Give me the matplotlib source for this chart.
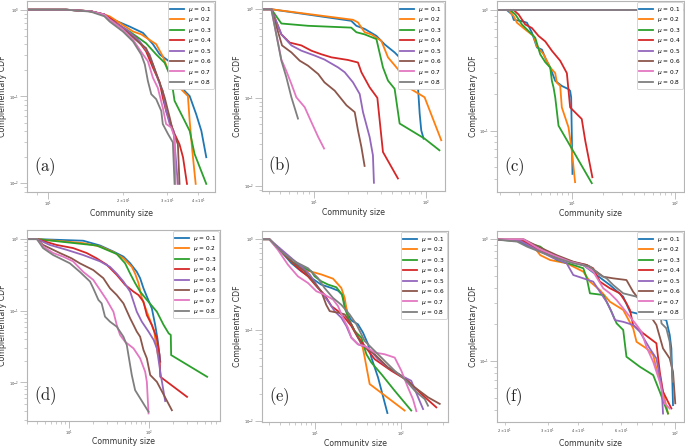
import matplotlib
matplotlib.use('Agg')
import matplotlib.pyplot as plt
from matplotlib.font_manager import FontProperties

plt.rcParams['font.family'] = ['DejaVu Sans']
plt.rcParams['mathtext.fontset'] = 'dejavusans'

MU = [0.1, 0.2, 0.3, 0.4, 0.5, 0.6, 0.7, 0.8]
COLORS = ['#1f77b4', '#ff7f0e', '#2ca02c', '#d62728',
          '#9467bd', '#8c564b', '#e377c2', '#7f7f7f']
PANEL_TAGS = ['a', 'b', 'c', 'd', 'e', 'f']
XLABEL = 'Community size'
YLABEL = 'Complementary CDF'

# ---------------- panel (a) ----------------
a_sizes = [
    [8, 11.8, 14.8, 16.8, 17.65, 21.2, 24.0, 26.3, 28.0, 31.1, 33.6, 35.2, 36.9, 39.2, 41.1, 43.0],
    [8, 11.8, 14.8, 16.8, 17.65, 21.9, 23.6, 27.1, 28.8, 31.1, 33.1, 36.3, 36.9, 37.8, 39.0],
    [8, 11.8, 14.8, 16.8, 17.65, 21.2, 24.7, 27.1, 29.3, 31.1, 32.1, 34.7, 36.9, 38.6, 43.0],
    [8, 11.8, 14.8, 16.8, 17.65, 19.95, 22.6, 24.7, 26.3, 28.0, 28.8, 29.7, 30.7, 32.1, 33.6, 34.7, 36.0],
    [8, 11.8, 14.8, 16.8, 17.65, 20.6, 23.3, 25.5, 28.0, 28.8, 29.7, 30.7, 31.8, 33.1],
    [8, 11.8, 14.8, 16.8, 17.65, 20.6, 23.3, 24.7, 26.3, 28.0, 29.3, 30.7, 31.6, 33.1, 33.6],
    [8, 11.8, 14.8, 16.8, 17.65, 19.95, 21.9, 24.0, 25.1, 26.3, 27.5, 28.8, 29.7, 31.1, 32.1, 32.4],
    [8, 11.8, 14.8, 16.8, 17.65, 19.95, 21.9, 23.6, 24.4, 25.1, 25.9, 27.1, 28.4, 28.8, 30.2, 31.6, 32.1],
]
a_ccdf = [
    [1, 1, 0.96, 0.88, 0.80, 0.64, 0.54, 0.40, 0.305, 0.244, 0.164, 0.116, 0.101, 0.062, 0.040, 0.0199],
    [1, 1, 0.96, 0.88, 0.838, 0.56, 0.52, 0.40, 0.29, 0.164, 0.132, 0.101, 0.052, 0.0237, 0.0098],
    [1, 1, 0.96, 0.88, 0.77, 0.56, 0.41, 0.305, 0.244, 0.164, 0.089, 0.057, 0.040, 0.0217, 0.0098],
    [1, 1, 0.96, 0.88, 0.80, 0.62, 0.47, 0.33, 0.214, 0.144, 0.097, 0.068, 0.052, 0.037, 0.028, 0.0199, 0.0098],
    [1, 1, 0.96, 0.88, 0.77, 0.59, 0.43, 0.305, 0.138, 0.116, 0.068, 0.048, 0.040, 0.0098],
    [1, 1, 0.96, 0.88, 0.77, 0.56, 0.41, 0.36, 0.234, 0.144, 0.097, 0.057, 0.040, 0.028, 0.0098],
    [1, 1, 0.96, 0.88, 0.77, 0.59, 0.45, 0.305, 0.255, 0.164, 0.126, 0.074, 0.048, 0.044, 0.034, 0.0098],
    [1, 1, 0.95, 0.84, 0.73, 0.56, 0.43, 0.305, 0.234, 0.151, 0.106, 0.093, 0.068, 0.048, 0.037, 0.0295, 0.0098],
]

# ---------------- panel (b) ----------------
b_sizes = [
    [3, 4.16, 21.5, 23.9, 28.3, 36.1, 42.8, 52.5, 64.5, 79.2, 84.9, 87.9, 90.8, 95.3],
    [3, 4.16, 22.3, 24.7, 28.3, 32.5, 39.9, 45.8, 56.2, 69.1, 97.3, 137],
    [3, 4.16, 5.11, 8.84, 21.5, 23.9, 28.3, 36.1, 41.3, 45.8, 52.5, 58.2, 97.3, 132],
    [3, 4.16, 5.11, 6.06, 7.71, 9.47, 11.6, 14.3, 20.1, 24.7, 26.5, 31.4, 36.8, 41.3, 56.2],
    [3, 4.16, 5.11, 6.28, 7.71, 10.1, 12.4, 16.4, 18.8, 22.3, 25.6, 27.4, 31.4, 33.6, 34.3],
    [3, 4.16, 5.18, 6.28, 7.45, 8.84, 10.9, 12.4, 15.3, 19.5, 23.1, 24.7, 26.5, 28.3],
    [3, 4.16, 5.11, 5.66, 6.28, 6.95, 8.26, 9.47, 10.9, 12.3],
    [3, 4.16, 5.11, 5.66, 6.28, 7.19],
]
b_ccdf = [
    [1, 1, 0.74, 0.65, 0.60, 0.50, 0.40, 0.325, 0.25, 0.194, 0.131, 0.066, 0.0427, 0.0344],
    [1, 1, 0.76, 0.71, 0.55, 0.52, 0.44, 0.286, 0.21, 0.131, 0.101, 0.033],
    [1, 1, 0.69, 0.65, 0.62, 0.55, 0.52, 0.46, 0.22, 0.156, 0.126, 0.051, 0.0344, 0.0254],
    [1, 1, 0.52, 0.42, 0.39, 0.34, 0.31, 0.286, 0.267, 0.25, 0.194, 0.131, 0.0995, 0.0243, 0.0122],
    [1, 1, 0.52, 0.39, 0.34, 0.30, 0.27, 0.22, 0.194, 0.149, 0.11, 0.0686, 0.0359, 0.0223, 0.0109],
    [1, 1, 0.39, 0.325, 0.262, 0.23, 0.185, 0.149, 0.12, 0.082, 0.0686, 0.0427, 0.0277, 0.0169],
    [1, 1, 0.27, 0.20, 0.143, 0.101, 0.078, 0.053, 0.0359, 0.0266],
    [1, 1, 0.262, 0.17, 0.101, 0.058],
]

# ---------------- panel (c) ----------------
c_sizes = [
    [2.31, 2.59, 2.69, 3.23, 3.61, 4.04, 4.52, 5.05, 5.52, 6.08, 6.80, 7.88, 9.15, 9.49, 9.71, 10.0],
    [2.40, 2.69, 2.89, 3.48, 4.19, 4.52, 5.24, 6.08, 6.80, 7.05, 7.60, 7.88, 9.15, 9.85, 10.6],
    [2.49, 2.79, 3.23, 3.75, 4.35, 4.86, 5.44, 6.08, 6.31, 6.55, 6.80, 7.32, 15.4],
    [2.69, 3.00, 3.48, 4.04, 4.69, 5.44, 6.31, 7.60, 8.82, 9.49, 12.3, 13.3, 14.3, 15.6],
    [1.8, 125],
    [1.8, 125],
    [1.8, 125],
    [1.8, 125],
]
c_ccdf = [
    [1, 0.92, 0.83, 0.81, 0.786, 0.65, 0.49, 0.47, 0.39, 0.334, 0.259, 0.235, 0.221, 0.214, 0.189, 0.0438],
    [1, 0.89, 0.786, 0.69, 0.61, 0.50, 0.43, 0.334, 0.30, 0.25, 0.235, 0.156, 0.1066, 0.0683, 0.0374],
    [1, 0.92, 0.76, 0.67, 0.59, 0.43, 0.37, 0.334, 0.259, 0.228, 0.189, 0.11, 0.0367],
    [1, 0.92, 0.76, 0.71, 0.61, 0.55, 0.46, 0.38, 0.30, 0.156, 0.125, 0.0827, 0.0601, 0.0411],
    [1, 1],
    [1, 1],
    [1, 1],
    [1, 1],
]

# ---------------- panel (d) ----------------
d_sizes = [
    [3, 4, 15.1, 24.5, 36.1, 48.1, 58.4, 64.3, 70.7, 77.8, 85.7, 94.4, 109, 120, 128, 139],
    [3, 4, 15.1, 24.5, 36.1, 48.1, 61.2, 67.4, 74.2, 81.7, 94.4, 109, 117, 120, 126, 130],
    [3, 4, 22.2, 29.7, 39.7, 50.5, 58.4, 67.4, 77.8, 94.4, 126, 153, 177, 188, 190, 535],
    [3, 4, 7.0, 11.3, 16.7, 22.2, 29.7, 39.7, 50.5, 64.3, 74.2, 85.7, 94.4, 109, 126, 136, 139, 300],
    [3, 4, 5.77, 9.35, 15.1, 24.5, 32.7, 39.7, 48.1, 58.4, 64.3, 70.7, 81.7, 99.1, 115, 126, 139, 160],
    [3, 4, 4.76, 7.71, 10.8, 13.7, 20.2, 27.0, 32.7, 39.7, 48.1, 58.4, 64.3, 70.7, 77.8, 85.7, 94.4, 104, 126, 194],
    [3, 4, 4.76, 6.36, 8.49, 11.3, 15.1, 20.2, 24.5, 29.7, 36.1, 39.7, 43.7, 50.5, 64.3, 77.8, 90.0, 94.4, 99.1],
    [3, 4, 4.76, 6.36, 7.71, 10.3, 13.7, 18.4, 20.2, 23.4, 25.7, 28.3, 32.7, 39.7, 48.1, 53.0, 55.6, 61.2, 67.4, 99.1],
]
d_ccdf = [
    [1, 1, 0.95, 0.815, 0.67, 0.57, 0.46, 0.40, 0.35, 0.285, 0.206, 0.158, 0.108, 0.0634, 0.0412, 0.0195],
    [1, 1, 0.88, 0.79, 0.66, 0.54, 0.41, 0.33, 0.243, 0.15, 0.097, 0.0634, 0.0512, 0.0412, 0.0299, 0.0241],
    [1, 1, 0.815, 0.71, 0.62, 0.46, 0.33, 0.243, 0.185, 0.142, 0.097, 0.0634, 0.0484, 0.046, 0.0241, 0.0120],
    [1, 1, 0.83, 0.75, 0.64, 0.54, 0.44, 0.317, 0.23, 0.185, 0.166, 0.134, 0.087, 0.0634, 0.0412, 0.0241, 0.012, 0.0063],
    [1, 1, 0.83, 0.71, 0.60, 0.49, 0.41, 0.33, 0.256, 0.185, 0.134, 0.097, 0.0705, 0.0512, 0.0391, 0.0299, 0.0141, 0.0055],
    [1, 1, 0.83, 0.64, 0.54, 0.46, 0.37, 0.285, 0.206, 0.166, 0.127, 0.0785, 0.0634, 0.0512, 0.0435, 0.0284, 0.0217, 0.0127, 0.0102, 0.0041],
    [1, 1, 0.79, 0.64, 0.57, 0.49, 0.35, 0.27, 0.196, 0.142, 0.097, 0.0634, 0.0459, 0.037, 0.0299, 0.0217, 0.0141, 0.0102, 0.0037],
    [1, 1, 0.75, 0.60, 0.54, 0.46, 0.35, 0.256, 0.206, 0.142, 0.127, 0.083, 0.0705, 0.060, 0.0435, 0.0333, 0.0241, 0.0127, 0.0078, 0.0039],
]

# ---------------- panel (e) ----------------
e_sizes = [
    [2, 3, 4.13, 5.38, 7.02, 9.15, 11.9, 15.6, 18.6, 20.7, 24.2, 26.5, 31.6, 36.1, 41.3, 45.1, 53.8, 69.0],
    [2, 3, 4.13, 5.88, 8.38, 11.9, 16.3, 20.3, 22.2, 24.2, 28.9, 34.6, 37.8, 43.1, 109],
    [2, 3, 3.94, 5.38, 7.67, 9.15, 10.0, 11.9, 14.3, 17.8, 20.7, 22.2, 25.3, 28.9, 34.6, 39.5, 45.1, 58.8, 83.8, 130],
    [2, 3, 3.78, 4.92, 6.42, 8.38, 10.9, 13.0, 15.6, 18.6, 22.2, 26.5, 31.6, 37.8, 49.2, 76.7, 119, 170, 253],
    [2, 3, 3.94, 5.38, 7.02, 8.76, 10.45, 12.5, 14.3, 17.0, 20.3, 23.2, 26.5, 31.6, 41.3, 53.8, 70.2, 100, 130, 156, 178],
    [2, 3, 3.94, 5.38, 7.67, 9.57, 11.9, 13.6, 14.9, 17.0, 19.4, 22.2, 26.5, 34.6, 49.2, 70.2, 100, 143, 203, 277],
    [2, 3, 3.78, 4.92, 6.42, 8.38, 10.45, 13.0, 16.3, 18.6, 21.2, 24.2, 26.5, 31.6, 37.8, 49.2, 64.2, 83.8, 100, 119, 136, 149],
    [2, 3, 4.13, 5.88, 8.38, 10.9, 13.0, 16.3, 20.3, 25.3, 30.3, 37.8, 49.2, 64.2, 83.8, 109, 143, 186, 203],
]
e_ccdf = [
    [1, 1, 0.73, 0.546, 0.443, 0.375, 0.317, 0.291, 0.272, 0.246, 0.149, 0.128, 0.116, 0.094, 0.070, 0.050, 0.0303, 0.0123],
    [1, 1, 0.73, 0.524, 0.45, 0.41, 0.368, 0.291, 0.226, 0.137, 0.098, 0.076, 0.050, 0.0256, 0.0131],
    [1, 1, 0.76, 0.57, 0.48, 0.443, 0.39, 0.345, 0.317, 0.296, 0.246, 0.176, 0.126, 0.098, 0.0828, 0.0544, 0.0441, 0.0329, 0.0216, 0.0131],
    [1, 1, 0.80, 0.62, 0.48, 0.39, 0.291, 0.246, 0.184, 0.162, 0.137, 0.111, 0.0828, 0.067, 0.048, 0.0358, 0.0278, 0.0199, 0.0142],
    [1, 1, 0.80, 0.62, 0.50, 0.41, 0.317, 0.246, 0.208, 0.162, 0.137, 0.111, 0.0828, 0.070, 0.064, 0.048, 0.0389, 0.0316, 0.0278, 0.0183, 0.0136],
    [1, 1, 0.76, 0.57, 0.443, 0.345, 0.268, 0.19, 0.162, 0.158, 0.155, 0.149, 0.116, 0.070, 0.0544, 0.0389, 0.0316, 0.0235, 0.0183, 0.0155],
    [1, 1, 0.76, 0.524, 0.39, 0.33, 0.268, 0.246, 0.217, 0.184, 0.137, 0.1065, 0.0828, 0.070, 0.067, 0.0568, 0.0544, 0.050, 0.0358, 0.0235, 0.0175, 0.0129],
    [1, 1, 0.73, 0.57, 0.48, 0.375, 0.291, 0.226, 0.19, 0.149, 0.116, 0.076, 0.0592, 0.046, 0.0358, 0.029, 0.0216, 0.0175, 0.0148],
]

# ---------------- panel (f) ----------------
f_sizes = [
    [18, 22.5, 26.3, 30.7, 35.9, 42.0, 47.6, 54.0, 61.2, 65.2, 73.9, 83.7, 91.9, 94.9, 96.4, 97.9],
    [18, 23.2, 26.3, 28.0, 30.7, 35.9, 42.0, 44.7, 49.1, 54.0, 61.2, 67.2, 69.4, 76.2, 81.2, 83.7, 89.1, 93.4],
    [18, 23.9, 28.0, 32.7, 38.2, 42.0, 43.4, 44.7, 50.7, 54.0, 57.5, 61.2, 63.1, 71.6, 81.2, 86.4, 93.4],
    [18, 23.9, 27.1, 31.7, 37.1, 43.4, 46.1, 49.1, 54.0, 59.3, 63.1, 65.2, 67.2, 73.9, 83.7, 86.4, 89.1, 96.4],
    [18, 23.2, 27.1, 31.7, 35.9, 38.2, 42.0, 46.1, 49.1, 52.3, 54.8, 56.6, 61.2, 67.2, 71.6, 78.6, 83.7, 87.8, 89.1],
    [18, 23.9, 28.0, 32.7, 38.2, 43.4, 47.6, 50.7, 55.7, 63.1, 67.2, 73.9, 78.6, 83.7, 89.1, 94.9, 97.9, 100],
    [18, 23.9, 27.5, 31.7, 37.1, 42.0, 46.1, 50.7, 54.0, 57.5, 61.2, 65.2, 69.4, 72.7, 76.2, 81.2, 86.4, 90.5, 94.9],
    [18, 22.5, 24.7, 28.9, 32.7, 38.2, 44.7, 49.1, 52.3, 55.7, 61.2, 69.4, 76.2, 81.2, 86.4, 87.8, 91.9, 94.9, 97.9],
]
f_ccdf = [
    [1, 0.98, 0.84, 0.74, 0.676, 0.615, 0.509, 0.421, 0.338, 0.254, 0.239, 0.227, 0.217, 0.164, 0.127, 0.0435],
    [1, 0.97, 0.87, 0.74, 0.676, 0.635, 0.542, 0.449, 0.383, 0.307, 0.263, 0.186, 0.144, 0.127, 0.112, 0.087, 0.056, 0.0371],
    [1, 0.957, 0.87, 0.676, 0.615, 0.578, 0.478, 0.36, 0.349, 0.271, 0.204, 0.18, 0.1085, 0.0898, 0.0767, 0.056, 0.0371],
    [1, 0.97, 0.84, 0.74, 0.655, 0.615, 0.578, 0.449, 0.396, 0.36, 0.298, 0.263, 0.198, 0.169, 0.14, 0.0818, 0.056, 0.0408],
    [1, 0.97, 0.82, 0.70, 0.635, 0.509, 0.478, 0.449, 0.371, 0.307, 0.254, 0.217, 0.21, 0.198, 0.174, 0.127, 0.105, 0.0635, 0.0371],
    [1, 1.0, 0.854, 0.74, 0.655, 0.615, 0.542, 0.493, 0.478, 0.463, 0.371, 0.289, 0.239, 0.198, 0.127, 0.105, 0.0818, 0.045],
    [1, 1.0, 0.84, 0.74, 0.655, 0.615, 0.542, 0.396, 0.36, 0.317, 0.271, 0.231, 0.198, 0.174, 0.131, 0.0988, 0.0676, 0.0449, 0.0408],
    [1, 0.957, 0.87, 0.767, 0.70, 0.635, 0.596, 0.509, 0.478, 0.421, 0.36, 0.338, 0.317, 0.307, 0.289, 0.204, 0.186, 0.144, 0.0676],
]

SIZES = [a_sizes, b_sizes, c_sizes, d_sizes, e_sizes, f_sizes]
CCDFS = [a_ccdf, b_ccdf, c_ccdf, d_ccdf, e_ccdf, f_ccdf]

XLIMS = [(8.24, 46.6), (3.43, 148), (1.85, 121), (3.0, 775), (2.47, 345), (18.6, 108.6)]
YLIMS = [(0.0079, 1.26), (0.0088, 1.24), (0.031, 1.19), (0.0029, 1.34), (0.0098, 1.23), (0.0316, 1.17)]

# axes boxes in pixels: left, top, right, bottom
BOXES = [(27, 1, 215, 192), (262, 1, 445, 191), (497, 1, 684, 192),
         (27, 230, 220, 421), (262, 231, 448, 422), (497, 231, 684, 422)]
XLABEL_GAP = [17.0, 17.0, 17.0, 16.5, 16.5, 16.5]

W, H = 685, 446
fig = plt.figure(figsize=(W / 100, H / 100), dpi=100)

SPINE = '#b5b5b5'
legend_font = FontProperties(family='DejaVu Sans', size=4.2)
legend_font.set_math_fontfamily('dejavusans')

for i in range(6):
    l, t, r, b = BOXES[i]
    ax = fig.add_axes([l / W, 1 - b / H, (r - l) / W, (b - t) / H])
    for j, mu in enumerate(MU):
        ax.plot(SIZES[i][j], CCDFS[i][j], color=COLORS[j], lw=1.3,
                label=r'$\mu$ = %.1f' % mu)
    ax.set_xscale('log')
    ax.set_yscale('log')
    ax.set_xlim(*XLIMS[i])
    ax.set_ylim(*YLIMS[i])
    for s in ax.spines.values():
        s.set_color(SPINE)
        s.set_linewidth(0.8)
    ax.tick_params(which='major', length=5, width=0.6, color=SPINE,
                   labelsize=2.6, labelcolor='#444444', pad=0.6)
    ax.tick_params(which='minor', length=2.5, width=0.5, color=SPINE,
                   labelsize=2.6, labelcolor='#444444', pad=0.6)
    ax.set_xlabel(XLABEL, fontsize=5.6, color='#333333')
    ax.set_ylabel(YLABEL, fontsize=5.7, color='#333333')
    hpx = b - t
    wpx = r - l
    ax.xaxis.set_label_coords(0.5, -XLABEL_GAP[i] / hpx)
    ax.yaxis.set_label_coords(-19.5 / wpx, 0.5)
    leg = ax.legend(loc='upper right', prop=legend_font, borderaxespad=0.25,
                    handlelength=2.3, labelspacing=0.25, borderpad=0.4,
                    handletextpad=0.7, framealpha=1.0, edgecolor='#d0d0d0')
    leg.get_frame().set_linewidth(0.6)
    ax.text(0.035, 0.075, r'$(\mathrm{%s})$' % PANEL_TAGS[i],
            transform=ax.transAxes, fontsize=12, ha='left', va='bottom',
            color='#222222', math_fontfamily='cm')

fig.savefig('out.png', dpi=100)
